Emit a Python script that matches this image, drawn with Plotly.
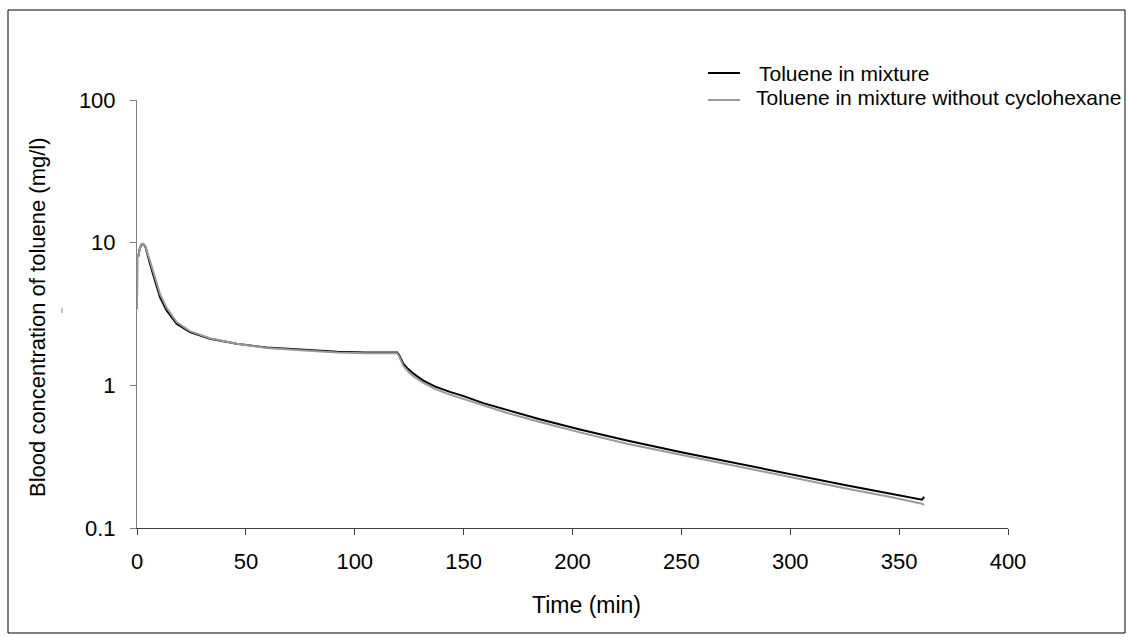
import plotly.graph_objects as go

# Time (min)
time_min = [0, 0.1, 0.6, 1.2, 2.0, 2.8, 3.8, 5.0, 6.0, 8.3, 10.6, 13.6, 18.2, 24.3, 33.5,
            45.8, 59.5, 75, 92, 105, 119.5, 120.5, 122.3, 124.5, 126.9, 131.5, 137, 143.7,
            150, 159, 170, 185, 203.4, 225, 250, 275, 300, 325, 345, 359.5, 360.5, 361.5]

# Toluene in mixture (mg/l)
tol_mix = [3.44, 8.2, 8.0, 9.0, 9.7, 9.8, 9.4, 8.2, 7.1, 5.4, 4.14, 3.35, 2.70, 2.36, 2.12,
           1.96, 1.84, 1.78, 1.72, 1.70, 1.70, 1.62, 1.42, 1.30, 1.21, 1.08, 0.98, 0.90,
           0.84, 0.75, 0.67, 0.578, 0.49, 0.41, 0.34, 0.285, 0.237, 0.200, 0.175, 0.158, 0.158, 0.165]

# Toluene in mixture without cyclohexane (mg/l)
tol_no_cyc = [3.44, 8.2, 8.0, 9.0, 9.7, 9.8, 9.5, 8.4, 7.4, 5.7, 4.35, 3.5, 2.78, 2.40, 2.14,
              1.96, 1.83, 1.76, 1.70, 1.68, 1.68, 1.58, 1.37, 1.25, 1.16, 1.04, 0.94, 0.86,
              0.80, 0.72, 0.64, 0.553, 0.468, 0.39, 0.325, 0.272, 0.226, 0.19, 0.166, 0.149, 0.148, 0.145]

x_ticks = [0, 50, 100, 150, 200, 250, 300, 350, 400]
y_ticks = [0.1, 1, 10, 100]
y_tick_text = ["0.1", "1", "10", "100"]

series_names = ["Toluene in mixture", "Toluene in mixture without cyclohexane"]
series_colors = ["#000000", "#9a9a9a"]

FONT = "Liberation Sans, Arial, sans-serif"

fig = go.Figure()
fig.add_trace(go.Scatter(x=time_min, y=tol_mix, mode="lines", name=series_names[0],
                         line=dict(color=series_colors[0], width=2), showlegend=False))
fig.add_trace(go.Scatter(x=time_min, y=tol_no_cyc, mode="lines", name=series_names[1],
                         line=dict(color=series_colors[1], width=2), showlegend=False))

W, H = 1128, 637
L, R, T, B = 137, 120, 100, 109
pw, ph = W - L - R, H - T - B

def px(xp):
    return (xp - L) / pw

def py(yp):
    return (H - B - yp) / ph

# manual legend (line sample + label)
legend_line_y = [73, 100]
legend_text_x = [757, 754]
legend_text_y = [73, 97]

shapes = [
    dict(type="rect", xref="paper", yref="paper", x0=px(8), x1=px(1125),
         y0=py(633), y1=py(10), line=dict(color="#000000", width=1)),
    dict(type="line", xref="paper", yref="paper", x0=px(62), x1=px(62),
         y0=py(308), y1=py(313), line=dict(color="#808080", width=1)),
]
annotations = [
    dict(text="Time (min)", x=px(586), y=py(605), xref="paper", yref="paper",
         showarrow=False, font=dict(size=23), xanchor="center", yanchor="middle"),
    dict(text="Blood concentration of toluene (mg/l)", x=px(37), y=py(317),
         xref="paper", yref="paper", showarrow=False, textangle=-90,
         font=dict(size=22), xanchor="center", yanchor="middle"),
]
for i in range(2):
    shapes.append(dict(type="line", xref="paper", yref="paper", x0=px(708), x1=px(740),
                       y0=py(legend_line_y[i]), y1=py(legend_line_y[i]),
                       line=dict(color=series_colors[i], width=2)))
    annotations.append(dict(text=series_names[i], x=px(legend_text_x[i]), y=py(legend_text_y[i]),
                            xref="paper", yref="paper", showarrow=False,
                            font=dict(size=21), xanchor="left", yanchor="middle"))

fig.update_layout(
    width=W, height=H,
    margin=dict(l=L, r=R, t=T, b=B, pad=0),
    paper_bgcolor="white", plot_bgcolor="white",
    font=dict(family=FONT, color="#000000", size=22),
    showlegend=False,
    xaxis=dict(range=[0, 400], tickvals=x_ticks, showgrid=False, zeroline=False,
               showline=True, linecolor="#404040", linewidth=1,
               ticks="outside", ticklen=6, tickcolor="#404040",
               tickfont=dict(size=22), ticklabelstandoff=8),
    yaxis=dict(type="log", range=[-1, 2], tickvals=y_ticks, ticktext=y_tick_text,
               showgrid=False, zeroline=False, showline=True, linecolor="#808080",
               linewidth=1, ticks="outside", ticklen=6, tickcolor="#808080",
               tickfont=dict(size=22), ticklabelstandoff=10),
    annotations=annotations,
    shapes=shapes,
)

fig.write_html("out.html")
